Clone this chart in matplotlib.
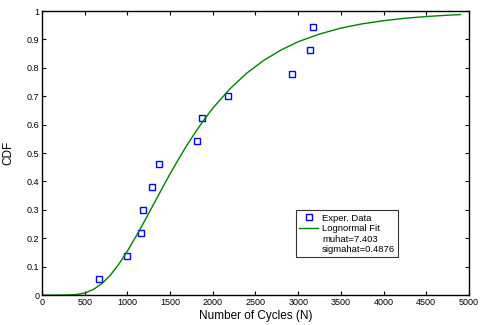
import numpy as np
import matplotlib.pyplot as plt
from matplotlib.lines import Line2D

plt.rcParams['font.family'] = ['Liberation Sans', 'DejaVu Sans']

# experimental data (cycles, median rank CDF)
exp_cycles = [667, 995, 1159, 1183, 1288, 1370, 1815, 1874, 2178, 2927, 3138, 3173]
exp_cdf = [0.056, 0.137, 0.218, 0.300, 0.380, 0.461, 0.542, 0.623, 0.700, 0.780, 0.863, 0.944]

# lognormal fit curve
fit_cycles = [0, 200, 300, 400, 500, 600, 700, 800, 900, 1000, 1100, 1200, 1300, 1400,
              1500, 1600, 1700, 1800, 1900, 2000, 2200, 2400, 2600, 2800, 3000, 3250,
              3500, 3750, 4000, 4250, 4500, 4750, 4900]
fit_cdf = [0.0, 0.00001, 0.0003, 0.0019, 0.0074, 0.0196, 0.040, 0.070, 0.109, 0.155,
           0.206, 0.260, 0.316, 0.372, 0.427, 0.479, 0.529, 0.575, 0.618, 0.658,
           0.726, 0.782, 0.827, 0.863, 0.892, 0.919, 0.940, 0.955, 0.966, 0.9745,
           0.9807, 0.9854, 0.9876]

fig = plt.figure(figsize=(4.8, 3.25), dpi=100)
ax = fig.add_axes([0.0875, 0.092, 0.8895, 0.874])

ax.plot(exp_cycles, exp_cdf, 's', mfc='none', mec='blue', ms=5, mew=1.0)
ax.plot(fit_cycles, fit_cdf, '-', color='#008000', lw=1.0)

ax.set_xlim(0, 5000)
ax.set_ylim(0, 1)
ax.set_xticks(np.arange(0, 5001, 500))
ax.set_yticks(np.arange(0, 1.01, 0.1))
ax.set_yticklabels(['0', '0.1', '0.2', '0.3', '0.4', '0.5', '0.6', '0.7', '0.8', '0.9', '1'])
ax.tick_params(direction='in', top=True, right=True, labelsize=6.5, length=3, width=0.8, pad=2)
for s in ax.spines.values():
    s.set_linewidth(1.0)

ax.set_xlabel('Number of Cycles (N)', fontsize=8.5, labelpad=2)
ax.set_ylabel('CDF', fontsize=8.5, labelpad=9)

handles = [
    Line2D([], [], ls='none', marker='s', mfc='none', mec='blue', ms=5),
    Line2D([], [], color='#008000', lw=1.0),
    Line2D([], [], ls='none'),
    Line2D([], [], ls='none'),
]
labels = ['Exper. Data', 'Lognormal Fit', 'muhat=7.403', 'sigmahat=0.4876']
leg = ax.legend(handles, labels, loc='upper left', bbox_to_anchor=(0.595, 0.298),
                fontsize=6.8, frameon=True, fancybox=False, edgecolor='black',
                handlelength=2.0, handletextpad=0.4, borderpad=0.35, labelspacing=0.15,
                borderaxespad=0)
leg.get_frame().set_linewidth(0.8)

fig.savefig('out.png', dpi=100)
